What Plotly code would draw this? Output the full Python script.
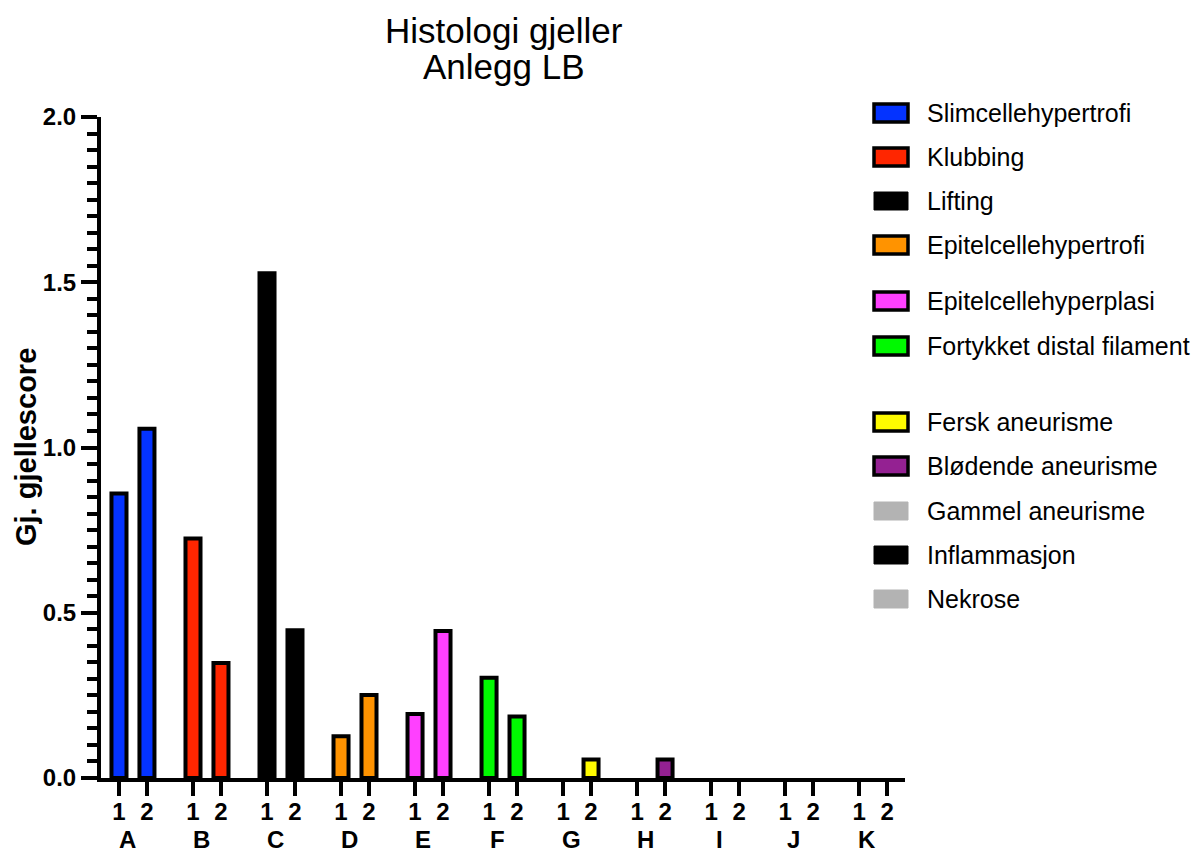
import plotly.graph_objects as go

# ---------------- data ----------------
groups = ["A", "B", "C", "D", "E", "F", "G", "H", "I", "J", "K"]
subgroups = ["1", "2"]

series_names = [
    "Slimcellehypertrofi",
    "Klubbing",
    "Lifting",
    "Epitelcellehypertrofi",
    "Epitelcellehyperplasi",
    "Fortykket distal filament",
    "Fersk aneurisme",
    "Blødende aneurisme",
    "Gammel aneurisme",
    "Inflammasjon",
    "Nekrose",
]

slimcellehypertrofi = [0.861, 1.057]
klubbing = [0.725, 0.348]
lifting = [1.527, 0.447]
epitelcellehypertrofi = [0.126, 0.251]
epitelcellehyperplasi = [0.194, 0.445]
fortykket_distal_filament = [0.303, 0.186]
fersk_aneurisme = [0.0, 0.056]
blodende_aneurisme = [0.0, 0.056]
gammel_aneurisme = [0.0, 0.0]
inflammasjon = [0.0, 0.0]
nekrose = [0.0, 0.0]

series_values = [
    slimcellehypertrofi, klubbing, lifting, epitelcellehypertrofi,
    epitelcellehyperplasi, fortykket_distal_filament, fersk_aneurisme,
    blodende_aneurisme, gammel_aneurisme, inflammasjon, nekrose,
]

y_ticks = [0.0, 0.5, 1.0, 1.5, 2.0]
y_tick_labels = ["0.0", "0.5", "1.0", "1.5", "2.0"]

title_lines = ["Histologi gjeller", "Anlegg LB"]
y_title = "Gj. gjellescore"

# ---------------- styles ----------------
fill_colors = ["#0433FF", "#FF2600", "#000000", "#FF9300", "#FF40FF",
               "#00F900", "#FFFB00", "#942192", "#B3B3B3", "#000000", "#B3B3B3"]
line_colors = ["#000000", "#000000", "#000000", "#000000", "#000000",
               "#000000", "#000000", "#000000", "#B3B3B3", "#000000", "#B3B3B3"]

FONT = "Liberation Sans, Arial, Helvetica, sans-serif"
sub_offset = [0.0, 0.378]
bar_width = 0.203
label_shift = 0.08

# page has an 8px body margin -> work in figure coordinates
OFF = 8
W, H = 1204 - OFF, 854 - OFF
L, T = 101 - OFF, 117 - OFF
R = W - (905 - OFF)
B = H - (778 - OFF)
plot_w = W - L - R
plot_h = H - T - B


def px_x(px):
    """screen pixel x -> paper coordinate"""
    return (px - OFF - L) / plot_w


def px_y(py):
    """screen pixel y -> paper coordinate"""
    return (H - B - (py - OFF)) / plot_h


fig = go.Figure()

tick_vals, tick_text = [], []
for gi, g in enumerate(groups):
    for sj, s in enumerate(subgroups):
        tick_vals.append(gi + sub_offset[sj])
        tick_text.append(s)

for gi, (name, vals) in enumerate(zip(series_names, series_values)):
    xs = [gi + sub_offset[j] for j in range(len(subgroups))]
    widths = [4 if v > 0 else 0 for v in vals]
    fig.add_trace(go.Bar(
        x=xs, y=vals, width=bar_width, name=name, showlegend=False,
        marker=dict(color=fill_colors[gi],
                    line=dict(color=line_colors[gi], width=widths)),
    ))

annotations = []
# group letters under the sub ticks
for gi, g in enumerate(groups):
    annotations.append(dict(
        x=gi + sub_offset[1] / 2 - label_shift, y=px_y(839), xref="x", yref="paper",
        text=g, showarrow=False, yanchor="middle",
        font=dict(family=FONT, size=24, color="black", weight="bold"),
    ))

# title (two lines)
for text, cy in zip(title_lines, [30, 67]):
    annotations.append(dict(
        x=px_x(504), y=px_y(cy), xref="paper", yref="paper",
        text=text, showarrow=False, xanchor="center", yanchor="middle",
        font=dict(family=FONT, size=35, color="black"),
    ))

# y axis title
annotations.append(dict(
    x=px_x(26), y=px_y(447), xref="paper", yref="paper",
    text=y_title, showarrow=False, textangle=-90,
    xanchor="center", yanchor="middle",
    font=dict(family=FONT, size=29, color="black", weight="bold"),
))

# manual legend (rectangular swatches as in the original)
legend_y_px = [113, 157, 201, 245, 301, 346, 422, 466, 511, 555, 599]
shapes = []
for k, name in enumerate(series_names):
    cy = legend_y_px[k]
    bordered = line_colors[k] == "#000000" and fill_colors[k] != "#000000"
    shapes.append(dict(
        type="rect", xref="paper", yref="paper",
        x0=px_x(874), x1=px_x(908), y0=px_y(cy + 9), y1=px_y(cy - 9),
        fillcolor=fill_colors[k],
        line=dict(color="#000000" if bordered else fill_colors[k],
                  width=3.5 if bordered else 1),
    ))
    annotations.append(dict(
        x=px_x(925), y=px_y(cy), xref="paper", yref="paper",
        text=name, showarrow=False, xanchor="left", yanchor="middle",
        font=dict(family=FONT, size=25, color="black"),
    ))

fig.update_layout(
    width=W, height=H,
    margin=dict(l=L, r=R, t=T, b=B),
    paper_bgcolor="white", plot_bgcolor="white",
    barmode="overlay",
    font=dict(family=FONT, color="black"),
    annotations=annotations,
    shapes=shapes,
    showlegend=False,
)

fig.update_xaxes(
    range=[-0.243, 10.62], tickmode="array", tickvals=tick_vals, ticktext=tick_text,
    ticks="outside", ticklen=14, tickwidth=4, tickcolor="black",
    showline=True, linewidth=4, linecolor="black",
    showgrid=False, zeroline=False, ticklabelstandoff=-5,
    tickfont=dict(family=FONT, size=24, color="black", weight="bold"),
)

fig.update_yaxes(
    range=[0, 2], tickmode="array", tickvals=y_ticks, ticktext=y_tick_labels,
    ticks="outside", ticklen=16, tickwidth=4, tickcolor="black",
    minor=dict(dtick=0.05, tick0=0, ticks="outside", ticklen=10, tickwidth=3.5,
               tickcolor="black", showgrid=False),
    showline=True, linewidth=4, linecolor="black",
    showgrid=False, zeroline=False,
    tickfont=dict(family=FONT, size=24, color="black", weight="bold"),
)

fig.write_html("out.html")
